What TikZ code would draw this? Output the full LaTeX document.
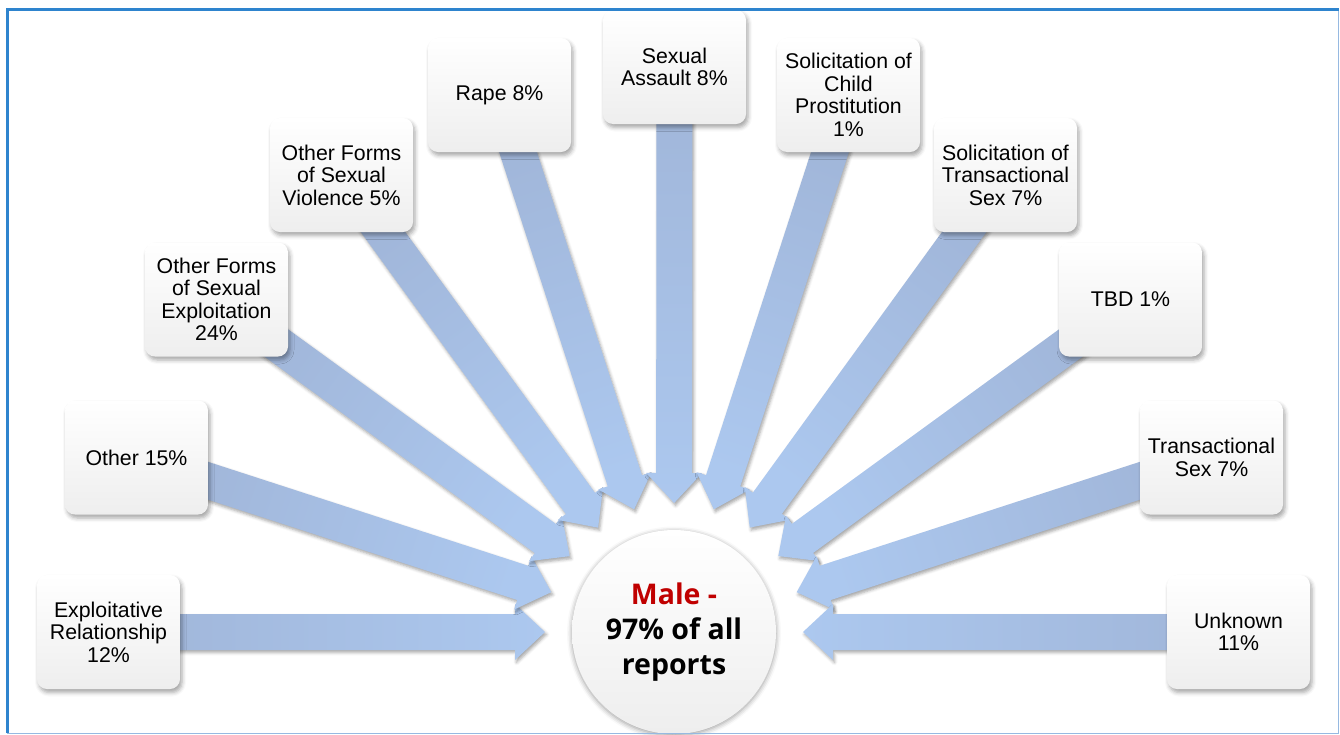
\documentclass[tikz,border=0pt]{standalone}
\usepackage{fontspec}
\setmainfont{Liberation Sans}
\newfontfamily\hubfont{Open Sans}
\usetikzlibrary{calc,shadows.blur}

\definecolor{framec}{RGB}{46,132,206}
\definecolor{framelite}{RGB}{150,185,225}
\definecolor{arrowdark}{RGB}{160,181,216}
\definecolor{arrowlite}{RGB}{172,200,239}
\definecolor{cardgrey}{RGB}{238,238,238}
\definecolor{malered}{RGB}{192,0,0}

\pgfdeclarelayer{back}
\pgfsetlayers{back,main}

\tikzset{
  card/.style={rounded corners=10pt, minimum width=143pt, minimum height=114pt,
    inner sep=0pt, align=center, top color=white, bottom color=cardgrey,
    font=\fontsize{21.3}{22.5}\selectfont,
    blur shadow={shadow xshift=2pt, shadow yshift=-3.5pt,
      shadow blur radius=4pt, shadow opacity=35}},
  hub/.style={circle, minimum size=204pt, inner sep=0pt, align=center,
    top color=white, bottom color=cardgrey,
    font=\hubfont\bfseries\fontsize{28.5}{35}\selectfont,
    blur shadow={shadow xshift=0pt, shadow yshift=-1.5pt,
      shadow blur radius=5pt, shadow opacity=40}},
  arrowbody/.style={top color=arrowlite, bottom color=arrowdark,
    blur shadow={shadow xshift=1.5pt, shadow yshift=-2.5pt,
      shadow blur radius=3pt, shadow opacity=35}}
}

% block arrow from a card to the hub: shaft 36pt wide, head 56pt wide, 30pt long
\newcommand\blockarrow[1]{%
  \path let \p1=($(hub.center)-(#1.center)$) in
    \pgfextra{\pgfmathsetmacro\arrangtmp{atan2(\y1,\x1)-90}\xdef\arrang{\arrangtmp}};
  \coordinate (ah-tip) at ($(hub.center)!129pt!(#1.center)$);
  \coordinate (ah-base) at ($(hub.center)!159pt!(#1.center)$);
  \shade[arrowbody, shading angle=\arrang]
    ($(#1.center)!18pt!90:(ah-tip)$) --
    ($(ah-base)!18pt!-90:(#1.center)$) --
    ($(ah-base)!28pt!-90:(#1.center)$) --
    (ah-tip) --
    ($(ah-base)!28pt!90:(#1.center)$) --
    ($(ah-base)!18pt!90:(#1.center)$) --
    ($(#1.center)!18pt!-90:(ah-tip)$) -- cycle;
}

\begin{document}
\begin{tikzpicture}[x=1pt,y=-1pt]
\useasboundingbox (0,0) rectangle (1340,734);

% hub and category cards
\node[hub] (hub) at (674,632) {{\color{malered}Male -}\\97\% of all\\reports};

\node[card] (c1)  at (108.5,632)   {Exploitative\\Relationship\\12\%};
\node[card] (c2)  at (136.5,457.5) {Other 15\%};
\node[card] (c3)  at (216.5,299.5) {Other Forms\\of Sexual\\Exploitation\\24\%};
\node[card] (c4)  at (341.5,175)   {Other Forms\\of Sexual\\Violence 5\%};
\node[card] (c5)  at (499.5,95)    {Rape 8\%};
\node[card] (c6)  at (674.5,67)    {Sexual\\Assault 8\%};
\node[card] (c7)  at (848.5,95)    {Solicitation of\\Child\\Prostitution\\1\%};
\node[card] (c8)  at (1005.5,175)  {Solicitation of\\Transactional\\Sex 7\%};
\node[card] (c9)  at (1130.5,299.5){TBD 1\%};
\node[card] (c10) at (1211.5,457.5){Transactional\\Sex 7\%};
\node[card] (c11) at (1238.5,632)  {Unknown\\11\%};

% arrows behind the cards
\begin{pgfonlayer}{back}
  \foreach \c in {c1,c2,c3,c4,c5,c6,c7,c8,c9,c10,c11} {\blockarrow{\c}}
\end{pgfonlayer}

% frame
\draw[framelite, line width=1pt] (7,9) rectangle (1338.5,733);
\draw[framec, line width=3pt] (7,733) -- (7,9) -- (1338.5,9);
\end{tikzpicture}
\end{document}
